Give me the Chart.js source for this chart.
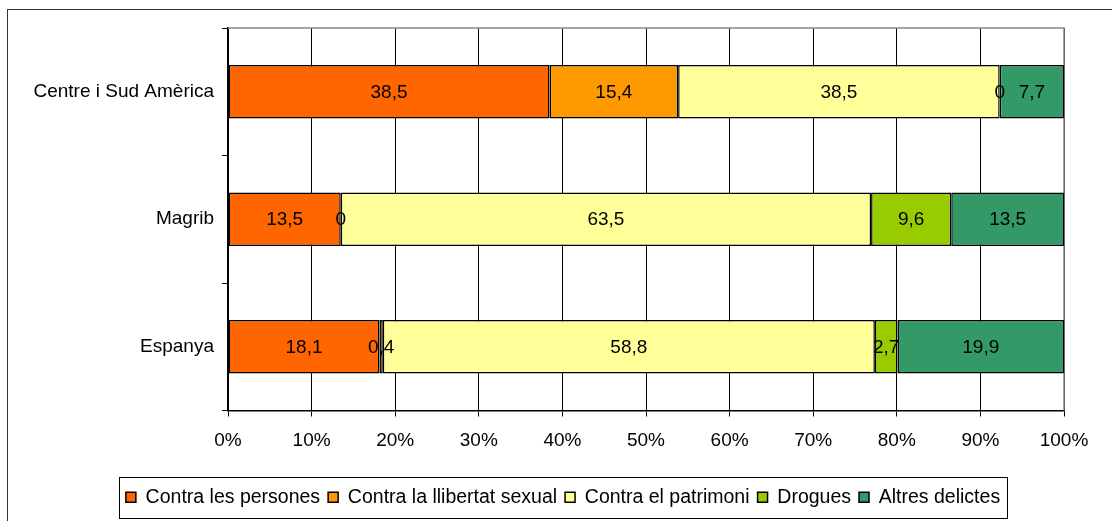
<!DOCTYPE html>
<html>
<head>
<meta charset="utf-8">
<script src="https://cdn.jsdelivr.net/npm/chart.js@4/dist/chart.umd.min.js"></script>
<style>
  html, body { margin: 0; padding: 0; background: #fff; overflow: hidden; }
  #wrap { position: relative; width: 1112px; height: 521px; }
  #frame { position: absolute; left: 7px; top: 9px; width: 1200px; height: 600px; border: 1px solid #333; box-sizing: border-box; }
  canvas { position: absolute; left: 0; top: 0; }
</style>
</head>
<body>
<div id="wrap">
  <div id="frame"></div>
  <canvas id="myBarChart" width="1112" height="521"></canvas>
</div>
<script>
// categories and series (values as printed in the chart)
var categories = ['Centre i Sud Amèrica', 'Magrib', 'Espanya'];
var seriesNames = ['Contra les persones', 'Contra la llibertat sexual', 'Contra el patrimoni', 'Drogues', 'Altres delictes'];
var persones = [38.5, 13.5, 18.1];
var sexual = [15.4, 0, 0.4];
var patrimoni = [38.5, 63.5, 58.8];
var drogues = [0, 9.6, 2.7];
var altres = [7.7, 13.5, 19.9];
var xTicks = [0, 10, 20, 30, 40, 50, 60, 70, 80, 90, 100];
var barColors = ['#FF6600', '#FF9900', '#FFFF99', '#99CC00', '#339966'];

var allSeries = [persones, sexual, patrimoni, drogues, altres];
var fontFam = '"Liberation Sans", Arial, sans-serif';

// 100% stacked: share of each category total
var totals = categories.map(function (c, i) {
    return allSeries.reduce(function (s, arr) { return s + arr[i]; }, 0);
});

var datasets = allSeries.map(function (arr, k) {
    return {
        label: seriesNames[k],
        data: arr.map(function (v, i) { return v / totals[i] * 100; }),
        raw: arr,
        backgroundColor: barColors[k],
        borderColor: '#000',
        borderWidth: 1.5,
        borderSkipped: false,
        categoryPercentage: 0.42,
        barPercentage: 1
    };
});

// write the value in the middle of every segment
var valueLabels = {
    id: 'valueLabels',
    afterDatasetsDraw: function (chart) {
        var ctx = chart.ctx;
        ctx.save();
        ctx.font = '19px ' + fontFam;
        ctx.fillStyle = '#000';
        ctx.textAlign = 'center';
        ctx.textBaseline = 'middle';
        chart.data.datasets.forEach(function (ds, k) {
            chart.getDatasetMeta(k).data.forEach(function (bar, i) {
                var x = (bar.x + bar.base) / 2;
                ctx.fillText(String(ds.raw[i]).replace('.', ','), x, bar.y + 1);
            });
        });
        ctx.restore();
    }
};

// grey plot frame + box round the legend
var frames = {
    id: 'frames',
    afterLayout: function (chart) {
        // legend sits a little right of the canvas centre in the original
        var lg = chart.legend, dx = 31;
        lg.left += dx;
        lg.right += dx;
        (lg.legendHitBoxes || []).forEach(function (h) { h.left += dx; });
    },
    beforeDatasetsDraw: function (chart) {
        var a = chart.chartArea, ctx = chart.ctx;
        ctx.save();
        ctx.strokeStyle = '#888';
        ctx.lineWidth = 1.5;
        ctx.beginPath();
        ctx.moveTo(a.left, a.top);
        ctx.lineTo(a.right, a.top);
        ctx.lineTo(a.right, a.bottom);
        ctx.stroke();
        ctx.restore();
    },
    afterDraw: function (chart) {
        var boxes = chart.legend.legendHitBoxes;
        if (!boxes || !boxes.length) return;
        var l = Infinity, r = -Infinity, t = Infinity, b = -Infinity;
        boxes.forEach(function (h) {
            l = Math.min(l, h.left); r = Math.max(r, h.left + h.width);
            t = Math.min(t, h.top); b = Math.max(b, h.top + h.height);
        });
        var ctx = chart.ctx;
        ctx.save();
        ctx.strokeStyle = '#000';
        ctx.lineWidth = 1;
        ctx.strokeRect(Math.round(l - 7) + 0.5, Math.round(t - 11) + 0.5, Math.round(r - l + 14), Math.round(b - t + 21));
        ctx.restore();
    }
};

var ctx = document.getElementById('myBarChart').getContext('2d');
var BarChart = new Chart(ctx, {
    type: 'bar',
    data: { labels: categories, datasets: datasets },
    plugins: [valueLabels, frames],
    options: {
        indexAxis: 'y',
        responsive: false,
        animation: false,
        layout: { padding: { left: 0, right: 48, top: 28, bottom: 4 } },
        font: { family: fontFam },
        scales: {
            x: {
                stacked: true,
                min: 0,
                max: 100,
                afterBuildTicks: function (scale) {
                    scale.ticks = xTicks.map(function (v) { return { value: v }; });
                },
                ticks: {
                    color: '#000',
                    font: { size: 19, family: fontFam },
                    padding: 13,
                    callback: function (v) { return v + '%'; }
                },
                grid: { color: '#000', lineWidth: 1, tickLength: 6, tickColor: '#000' },
                border: { color: '#000', width: 1.5 },
                afterFit: function (scale) { scale.height = 69; }
            },
            y: {
                stacked: true,
                ticks: {
                    color: '#000',
                    font: { size: 19, family: fontFam },
                    padding: 8
                },
                grid: { offset: true, drawOnChartArea: false, tickLength: 6, color: '#000' },
                border: { color: '#000', width: 1.5 },
                afterFit: function (scale) { scale.width = 228; }
            }
        },
        plugins: {
            tooltip: { enabled: false },
            legend: {
                position: 'bottom',
                labels: {
                    color: '#000',
                    boxWidth: 10,
                    boxHeight: 10,
                    padding: 8,
                    font: { size: 19.5, family: fontFam }
                }
            }
        }
    }
});
</script>
</body>
</html>
